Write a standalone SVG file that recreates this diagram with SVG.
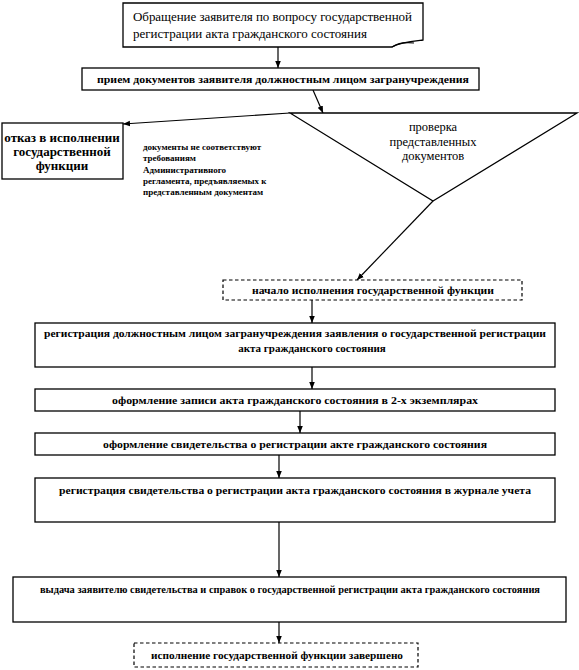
<svg xmlns="http://www.w3.org/2000/svg" width="579" height="670" viewBox="0 0 579 670">
<defs>
<marker id="ah" viewBox="0 0 10 10" refX="10" refY="5" markerWidth="7" markerHeight="7" orient="auto" markerUnits="userSpaceOnUse">
<path d="M0,1 L10,5 L0,9 Z" fill="#000"/>
</marker>
<style>
.b{fill:#fff;stroke:#000;stroke-width:1.3}
.d{fill:#fff;stroke:#000;stroke-width:1.2;stroke-dasharray:3.5,2.5}
.c{fill:none;stroke:#000;stroke-width:1.2}
.ca{fill:none;stroke:#000;stroke-width:1.2;marker-end:url(#ah)}
.t{font-size:11px;font-weight:bold}
.m{text-anchor:middle}
</style>
</defs>
<rect width="579" height="670" fill="#fff"/>
<g id="connectors">
<line class="ca" x1="278" y1="47" x2="278" y2="68"/>
<line class="ca" x1="313" y1="90" x2="323" y2="113"/>
<line class="ca" x1="290" y1="113" x2="123" y2="124"/>
<line class="ca" x1="433" y1="201" x2="357" y2="280"/>
<line class="ca" x1="312" y1="300" x2="312" y2="323"/>
<line class="ca" x1="312" y1="367" x2="312" y2="389"/>
<line class="ca" x1="300" y1="411" x2="300" y2="433"/>
<line class="ca" x1="279" y1="455" x2="279" y2="478"/>
<line class="ca" x1="279" y1="522" x2="279" y2="577"/>
<line class="ca" x1="279" y1="622" x2="279" y2="643"/>
</g>
<g font-family="'Liberation Serif', 'Times New Roman', 'DejaVu Serif', serif" fill="#000">
<g id="n1">
<path class="b" d="M123,3 H423 V40 C414,41 400,42 392,47 H123 Z"/>
<path class="c" d="M392,47 C398,43 406,42 414,43"/>
<text x="133" y="21" font-size="13" textLength="279" lengthAdjust="spacing">Обращение заявителя по вопросу государственной</text>
<text x="133" y="38" font-size="13">регистрации акта гражданского состояния</text>
</g>
<g id="n2">
<rect class="b" x="82" y="68" width="397" height="22"/>
<text class="t" x="97" y="83" textLength="372" lengthAdjust="spacingAndGlyphs">прием документов заявителя должностным лицом загранучреждения</text>
</g>
<g id="n3">
<path class="b" d="M290,113 L577,113 L433,201 Z"/>
<text class="m" x="433" y="131" font-size="12.5">проверка</text>
<text class="m" x="433" y="146" font-size="12.5">представленных</text>
<text class="m" x="433" y="160" font-size="12.5">документов</text>
</g>
<g id="n4">
<rect class="b" x="2" y="123" width="121" height="56"/>
<text class="m" x="62" y="142" font-size="13" font-weight="bold">отказ в исполнении</text>
<text class="m" x="62" y="156" font-size="13" font-weight="bold">государственной</text>
<text class="m" x="62" y="170" font-size="13" font-weight="bold">функции</text>
</g>
<g id="lbl" font-size="9" font-weight="bold">
<text x="143" y="150">документы не соответствуют</text>
<text x="143" y="161">требованиям</text>
<text x="143" y="173">Административного</text>
<text x="143" y="184">регламента, предъявляемых к</text>
<text x="143" y="195">представленным документам</text>
</g>
<g id="n5">
<rect class="d" x="223" y="280" width="299" height="20"/>
<text class="t m" x="373" y="294" textLength="242" lengthAdjust="spacingAndGlyphs">начало исполнения государственной функции</text>
</g>
<g id="n6">
<rect class="b" x="35" y="323" width="520" height="44"/>
<text class="t m" x="295" y="337" textLength="502" lengthAdjust="spacingAndGlyphs">регистрация должностным лицом загранучреждения заявления о государственной регистрации</text>
<text class="t m" x="312" y="352">акта гражданского состояния</text>
</g>
<g id="n7">
<rect class="b" x="35" y="389" width="520" height="22"/>
<text class="t m" x="295" y="404" textLength="366" lengthAdjust="spacingAndGlyphs">оформление записи акта гражданского состояния в 2-х экземплярах</text>
</g>
<g id="n8">
<rect class="b" x="35" y="433" width="520" height="22"/>
<text class="t m" x="295" y="448" textLength="384" lengthAdjust="spacingAndGlyphs">оформление свидетельства о регистрации акте гражданского состояния</text>
</g>
<g id="n9">
<rect class="b" x="35" y="478" width="520" height="44"/>
<text class="t m" x="295" y="494" textLength="472" lengthAdjust="spacingAndGlyphs">регистрация свидетельства о регистрации акта гражданского состояния в журнале учета</text>
</g>
<g id="n10">
<rect class="b" x="13" y="577" width="553" height="45"/>
<text class="t m" x="290" y="593" font-size="10" textLength="500" lengthAdjust="spacingAndGlyphs">выдача заявителю свидетельства и справок о государственной регистрации акта гражданского состояния</text>
</g>
<g id="n11">
<rect class="d" x="134" y="643" width="284" height="24"/>
<text class="t m" x="277" y="659" textLength="252" lengthAdjust="spacingAndGlyphs">исполнение государственной функции завершено</text>
</g>
</g>
</svg>
